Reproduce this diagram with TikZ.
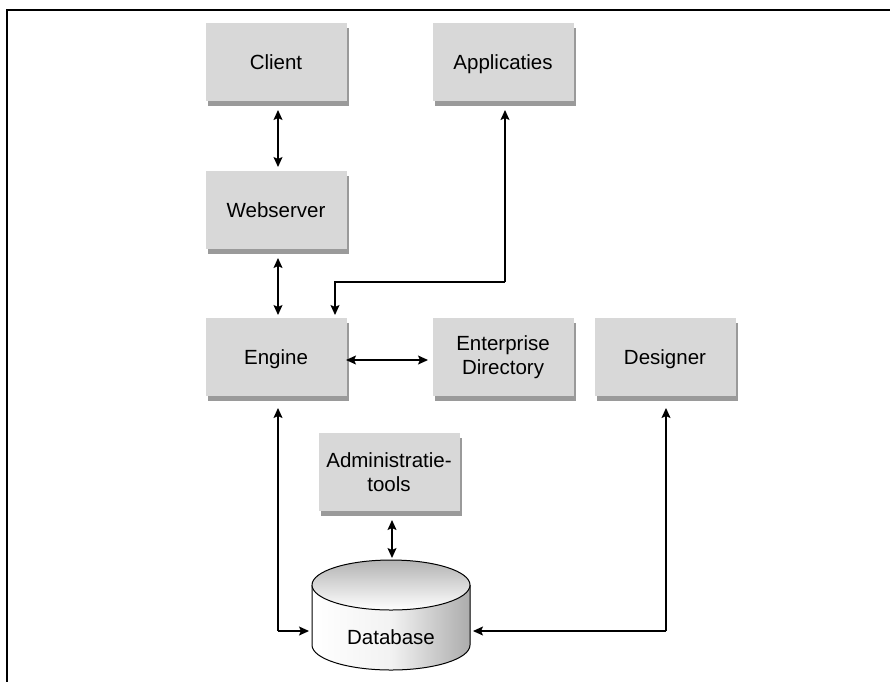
\documentclass[tikz,border=0pt]{standalone}
\usepackage{fontspec}
\setmainfont{Liberation Sans}
\usetikzlibrary{arrows.meta,shadows,shapes.geometric}
\definecolor{boxgray}{HTML}{D8D8D8}
\definecolor{shadowgray}{HTML}{9A9A9A}
\tikzset{
  comp/.style={rectangle, fill=boxgray, minimum width=141pt, minimum height=78pt,
    inner sep=0pt, align=center, font=\fontsize{20.5}{23.5}\selectfont,
    drop shadow={shadow xshift=2.5pt, shadow yshift=-4.5pt, fill=shadowgray, opacity=1}},
  oneline/.style={text height=14pt, text depth=0pt},
  conn/.style={line width=1.3pt, draw=black},
  tip/.style={-{Stealth[length=10pt,width=9pt,inset=2pt]}},
  tips/.style={{Stealth[length=10pt,width=9pt,inset=2pt]}-{Stealth[length=10pt,width=9pt,inset=2pt]}}
}
\begin{document}
\begin{tikzpicture}[x=1pt,y=-1pt]
\useasboundingbox (0,0) rectangle (890,681);
% frame
\draw[line width=2.2pt] (7,690) -- (7,10) -- (900,10);
% boxes
\node[comp, oneline] (client) at (276,62) {Client};
\node[comp, oneline] (appl) at (503,62) {Applicaties};
\node[comp, oneline] (web) at (276,210) {Webserver};
\node[comp, oneline] (engine) at (276,357) {Engine};
\node[comp] (ent) at (503,357) {Enterprise\\Directory};
\node[comp, oneline] (des) at (665,357) {Designer};
\node[comp] (admin) at (389,472) {Administratie-\\tools};
% database cylinder
\coordinate (dbc) at (391,585);
\shade[left color=white, right color=gray!65, middle color=white!90!gray]
  (312,585) -- (312,645) arc[start angle=180, end angle=360, x radius=79, y radius=-25] -- (470,585) -- cycle;
\draw[line width=1pt] (312,585) -- (312,645) arc[start angle=180, end angle=360, x radius=79, y radius=-25] -- (470,585);
\shade[top color=gray!60, bottom color=white] (dbc) ellipse[x radius=79, y radius=25];
\draw[line width=1pt] (dbc) ellipse[x radius=79, y radius=25];
\node[font=\fontsize{20.5}{23.5}\selectfont, inner sep=0pt] (db) at (391,637) {Database};
\coordinate (dbL) at (309,631);
\coordinate (dbR) at (473,631);
\coordinate (c1) at (505,282);
\coordinate (c2) at (278,631);
\coordinate (c3) at (666,631);
% connectors
\draw[conn, tips] (278,110) -- (278,167);
\draw[conn, tips] (278,258) -- (278,315);
\draw[conn, tip] (c1) -- (505,110);
\draw[conn, tip] (c1) -- (335,282) -- (335,315);
\draw[conn, tips] (346,360) -- (428,360);
\draw[conn, tip] (c2) -- (278,408);
\draw[conn, tip] (c2) -- (dbL);
\draw[conn, tip] (c3) -- (666,408);
\draw[conn, tip] (c3) -- (dbR);
\draw[conn, tips] (392,520) -- (392,558);
\end{tikzpicture}
\end{document}
